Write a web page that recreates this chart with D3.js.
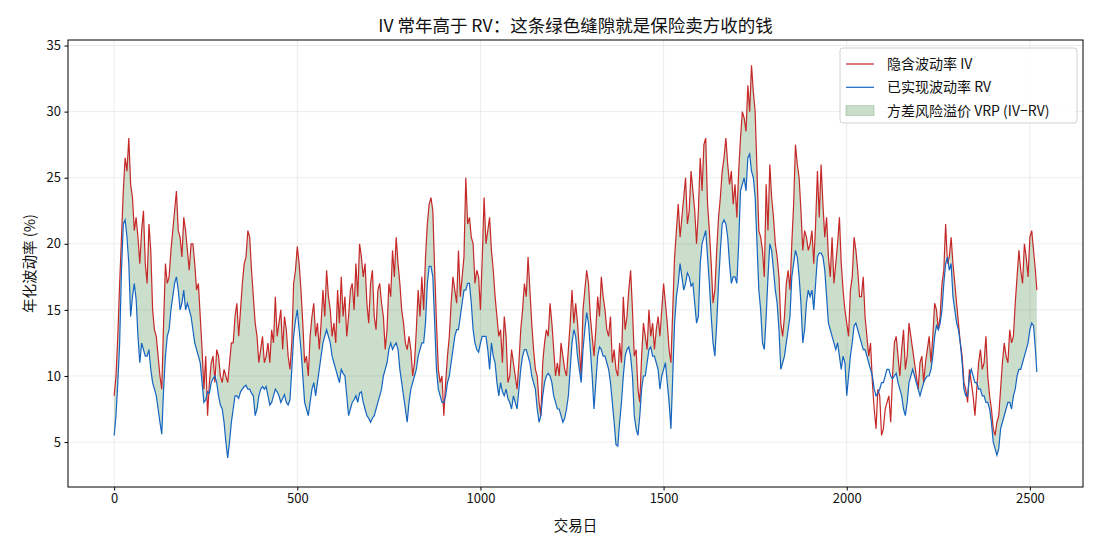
<!DOCTYPE html>
<html>
<head>
<meta charset="utf-8">
<script src="https://cdn.jsdelivr.net/npm/d3@7"></script>
<style>
  body { margin: 0; background: #fff; }
  text { font-family: "Noto Sans CJK SC", "DejaVu Sans", sans-serif; fill: #111; }
</style>
</head>
<body>
<div id="container"></div>
<script>
/* CONSTANTS AND GLOBALS */
const width = 1100,
    height = 550,
    margin = { top: 40, right: 17, bottom: 63, left: 68 };

// implied vol (IV), read every 5 trading days, last point = day 2519
const iv = [
    8.5, 10.0, 13.0, 17.0, 20.5, 24.0, 26.5, 25.5, 28.0, 24.5, 23.5, 21.0, 22.0, 20.5, 18.5, 21.0, 22.5, 18.5, 17.0, 21.5, 19.5,
    15.0, 13.5, 13.0, 11.5, 10.0, 9.0, 14.0, 18.5, 17.0, 17.5, 19.5, 21.0, 22.5, 24.0, 21.0, 20.5, 19.0, 22.0, 21.0, 19.5,
    18.0, 20.0, 20.0, 18.5, 16.5, 17.0, 14.5, 12.0, 9.0, 11.5, 7.0, 9.5, 11.0, 11.5, 9.5, 12.0, 11.5, 10.0, 9.5, 10.5, 10.0,
    9.5, 11.0, 12.5, 12.5, 14.5, 15.5, 13.0, 15.0, 17.0, 18.5, 19.0, 21.0, 20.5, 18.0, 16.0, 14.0, 13.0, 11.0, 12.0, 13.0, 11.0,
    11.5, 12.5, 11.0, 13.5, 12.5, 16.0, 13.0, 14.0, 15.0, 12.0, 14.5, 13.5, 11.5, 10.5, 12.5, 17.0, 18.0, 19.8, 18.5, 16.5, 14.0,
    11.0, 11.5, 10.0, 13.0, 14.5, 15.5, 13.0, 14.0, 12.0, 14.0, 16.5, 14.5, 18.0, 16.0, 15.0, 13.0, 14.0, 12.5, 16.5, 14.0, 17.5,
    14.5, 16.0, 13.0, 14.5, 16.5, 17.0, 15.0, 18.5, 16.0, 20.0, 19.0, 17.5, 18.5, 15.5, 14.0, 17.0, 18.0, 14.5, 13.5, 16.5, 17.0,
    15.5, 14.5, 12.0, 13.5, 17.0, 16.0, 19.5, 17.5, 20.5, 18.5, 17.0, 15.0, 14.0, 12.5, 12.0, 13.0, 12.0, 10.0, 11.0, 13.5, 16.5,
    14.5, 17.5,
    15.0, 19.0, 21.5, 23.0, 23.5, 22.5, 18.0, 14.0, 10.5, 9.5, 10.0, 7.0, 9.5, 11.5, 13.0, 15.5, 17.5, 16.5, 15.5, 19.5, 16.0,
    17.5, 19.0, 25.0, 21.5, 22.0, 20.5, 20.0, 17.0, 18.0, 17.5, 15.0, 19.0, 23.5, 20.0, 21.0, 22.0, 19.5, 18.0, 16.0, 14.5, 13.0,
    13.5, 11.0, 14.5, 13.0, 9.5, 10.0, 12.0, 11.0, 10.0, 9.0, 11.0, 13.5, 15.0, 17.0, 16.0, 19.0, 16.5, 14.0, 12.0, 10.5, 10.0,
    8.0, 7.0, 11.0, 12.5, 13.5, 13.0, 15.5, 14.0, 12.0, 10.0, 11.0, 10.0, 12.5, 11.5, 10.5, 10.0, 12.0, 14.0, 16.5, 14.0, 15.5,
    14.0, 12.0, 10.0, 15.0, 16.5, 18.0, 17.0, 14.5, 13.0, 11.5, 13.5, 16.0, 14.5, 17.5, 16.0, 15.0, 13.5, 13.0, 14.5, 11.0, 12.0,
    10.5, 10.0, 12.5, 11.0, 16.0, 13.5, 14.5, 16.5, 18.0, 15.0, 11.5, 12.0, 9.0, 8.0, 11.5, 14.0, 13.0, 12.0, 15.0, 13.0, 14.0,
    12.0, 13.5, 14.5, 13.0, 15.0, 17.0, 15.5, 14.0, 12.0, 11.0, 15.0, 19.0, 21.0, 23.0, 20.5, 22.0, 23.5, 25.0, 21.5, 22.5, 25.5,
    24.0, 22.5, 20.0, 22.5, 26.5, 24.0, 27.5, 28.0, 23.0, 21.0, 18.5, 15.5, 16.5, 19.5, 22.0, 23.5, 25.5, 26.5, 28.0, 26.0, 24.5,
    25.5, 23.0,
    24.5, 22.0, 25.5, 28.0, 30.0, 29.5, 28.5, 32.0, 30.0, 33.5, 31.5, 30.0, 25.5, 21.0, 20.5, 19.5, 17.5, 24.5, 21.0, 26.0, 23.5,
    22.0, 20.0, 19.0, 17.5, 14.0, 13.0, 14.5, 17.0, 18.0, 16.5, 20.0, 23.0, 27.5, 26.0, 25.0, 22.5, 19.5, 21.0, 20.5, 19.5, 20.0,
    21.0, 18.5, 21.5, 25.5, 22.0, 26.0, 23.0, 20.5, 22.0, 19.0, 17.5, 20.5, 17.0, 18.5, 20.0, 22.0, 18.5, 16.5, 15.0, 14.0, 13.0,
    16.5, 17.5, 20.5, 19.5, 18.0, 16.0, 16.0, 17.5, 14.5, 13.0, 11.5, 12.5, 9.5, 7.5, 6.0, 9.0, 8.5, 5.5, 6.0, 7.5, 8.0,
    8.5, 6.5, 10.0, 12.5, 13.0, 11.5, 10.0, 12.0, 13.5, 10.5, 11.5, 14.0, 13.0, 12.0, 11.0, 10.0, 9.0, 11.0, 11.5, 9.5, 11.0,
    12.0, 13.0, 11.0, 13.0, 15.5, 15.0, 13.5, 14.5, 17.0, 18.0, 21.5, 18.5, 19.0, 20.5, 18.5, 17.0, 15.5, 14.0, 12.5, 11.5, 9.5,
    9.0, 8.0,
    10.5, 9.5, 8.5, 7.0, 9.0, 11.0, 12.0, 10.5, 11.0, 13.0, 10.0, 8.5, 7.5, 6.0, 5.5, 6.5, 7.0, 9.0, 11.0, 12.5, 11.5,
    11.0, 13.5, 12.5, 13.0, 15.5, 17.5, 19.5, 18.0, 17.0, 20.0, 19.0, 17.5, 20.5, 21.0, 19.5, 18.0, 16.5
];

// realized vol (RV), same days
const rv = [
    5.5, 7.0, 9.5, 12.5, 18.0, 21.5, 21.8, 20.5, 18.5, 14.5, 16.0, 17.0, 15.8, 13.0, 11.0, 12.5, 12.0, 11.5, 11.5, 12.0, 10.5,
    9.5, 9.0, 8.5, 7.5, 6.5, 5.6, 9.0, 11.5, 13.0, 13.5, 15.0, 16.0, 17.0, 17.5, 16.5, 15.0, 15.5, 16.5, 15.0, 15.5,
    15.0, 14.5, 13.5, 12.5, 12.0, 11.5, 11.0, 9.5, 8.0, 8.2, 8.8, 8.7, 9.5, 9.8, 10.0, 9.5, 8.5, 7.8, 7.5, 6.5, 5.0,
    3.8, 5.0, 6.5, 7.5, 8.5, 8.5, 8.3, 8.8, 9.0, 9.2, 9.3, 9.0, 9.0, 8.7, 8.5, 7.0, 7.5, 8.5, 9.0, 9.2, 9.0,
    9.2, 8.5, 7.8, 8.0, 8.5, 9.0, 8.8, 8.5, 8.0, 8.3, 8.6, 8.0, 7.8, 8.2, 10.5, 13.0, 14.2, 15.0, 13.5, 12.0, 10.0,
    8.0, 7.5, 7.0, 8.0, 9.0, 9.5, 8.5, 9.5, 10.5, 11.5, 12.5, 13.0, 13.5, 13.0, 12.5, 11.5, 11.0, 10.5, 10.0, 9.5, 10.5,
    10.2, 10.0, 8.5, 7.0, 7.5, 8.0, 8.2, 8.5, 8.0, 8.7, 8.8, 8.0, 7.5, 7.0, 6.8, 6.5, 6.8, 7.0, 7.5, 8.0, 8.5,
    9.0, 10.0, 10.5, 11.0, 12.0, 12.5, 12.0, 12.3, 12.5, 12.0, 10.5, 9.5, 8.5, 7.5, 6.5, 8.0, 9.0, 9.5, 10.0, 10.5, 11.5,
    12.0, 12.5,
    12.5, 14.0, 17.0, 18.3, 18.3, 17.5, 14.0, 10.5, 9.0, 8.5, 8.0, 8.0, 8.5, 9.5, 10.0, 11.0, 12.0, 13.0, 13.5, 13.5, 14.5,
    15.5, 16.5, 16.5, 17.0, 17.0, 15.5, 13.5, 12.5, 12.0, 11.8, 12.5, 13.0, 13.0, 13.0, 12.0, 10.5, 12.5, 11.5, 11.0, 9.5, 8.5,
    9.5, 8.8, 8.5, 9.0, 8.3, 8.0, 7.5, 8.5, 8.0, 7.5, 9.0, 10.5, 11.5, 12.0, 12.0, 11.5, 11.0, 10.0, 9.5, 9.0, 7.5,
    6.5, 7.0, 8.5, 9.5, 10.0, 10.2, 10.0, 9.5, 8.5, 8.0, 7.5, 7.5, 7.0, 6.5, 6.8, 7.5, 8.5, 10.5, 12.5, 13.5, 13.0,
    11.5, 10.5, 9.5, 12.0, 13.5, 14.8, 14.0, 12.0, 10.0, 7.5, 9.5, 11.5, 12.2, 12.0, 11.5, 11.5, 11.0, 10.5, 9.5, 8.0, 6.5,
    4.8, 4.7, 6.5, 8.0, 10.0, 11.5, 12.0, 12.2, 11.5, 10.0, 7.0, 6.0, 5.5, 7.0, 9.0, 10.0, 10.0, 11.0, 12.0, 12.2, 11.5,
    11.5, 11.0, 10.5, 9.0, 10.0, 10.5, 11.0, 9.5, 8.0, 6.0, 10.0, 14.0, 16.0, 17.0, 18.5, 17.5, 16.5, 17.0, 17.8, 17.5, 16.8,
    17.0, 15.5, 14.0, 14.5, 18.5, 20.0, 20.5, 21.0, 19.0, 17.0, 14.5, 12.5, 11.5, 14.0, 17.0, 19.5, 21.5, 21.8, 21.5, 20.5, 18.5,
    17.0, 17.5,
    17.5, 17.0, 20.0, 24.0, 24.5, 25.0, 24.0, 26.5, 26.8, 25.5, 25.0, 23.5, 20.0, 16.5, 15.0, 12.5, 12.0, 14.5, 17.5, 20.0, 19.5,
    18.0, 16.5, 15.5, 13.5, 10.5, 11.0, 11.5, 12.5, 13.5, 14.5, 17.5, 18.5, 19.5, 19.0, 17.5, 15.5, 12.5, 13.5, 15.5, 16.5, 16.0,
    16.5, 15.0, 17.0, 19.0, 19.3, 19.3, 19.0, 18.0, 16.0, 14.0, 13.5, 13.0, 12.5, 12.0, 12.5, 11.5, 10.5, 11.5, 11.0, 8.5, 10.0,
    11.5, 12.5, 13.8, 14.0, 13.5, 13.0, 12.5, 12.0, 12.0, 11.5, 11.0, 10.5, 10.0, 9.0, 8.5, 8.7, 9.0, 9.5, 9.5, 10.0, 10.5,
    10.5, 10.0, 9.8, 10.0, 10.2, 9.5, 9.0, 8.5, 7.5, 7.0, 8.0, 9.5, 10.0, 10.5, 10.0, 9.5, 9.0, 8.5, 9.0, 9.5, 9.8,
    10.0, 10.0, 10.5, 11.5, 13.0, 13.8, 13.5, 14.0, 15.0, 17.0, 18.5, 19.0, 18.0, 18.5, 16.0, 15.0, 14.0, 13.5, 12.5, 11.0, 9.0,
    8.5, 8.5,
    10.0, 10.5, 10.0, 9.5, 9.5, 9.0, 9.0, 8.5, 8.5, 8.0, 8.0, 7.5, 6.5, 5.0, 4.5, 4.0, 4.5, 6.0, 6.5, 7.0, 7.5,
    8.0, 8.0, 7.5, 8.5, 9.0, 10.0, 10.5, 10.5, 11.0, 11.5, 12.0, 12.5, 13.5, 14.0, 13.8, 12.0, 10.3
];

const xTicks = [0, 500, 1000, 1500, 2000, 2500];
const yTicks = [5, 10, 15, 20, 25, 30, 35];
const legendLabels = ["隐含波动率 IV", "已实现波动率 RV", "方差风险溢价 VRP (IV−RV)"];

const ivColor = "#c62828",
    rvColor = "#1565c0",
    vrpColor = "#2e7d32";

const dataset = iv.map((v, i) => ({ day: Math.min(i * 5, 2519), iv: v, rv: rv[i] }));

const svg = d3.select("#container")
    .append("svg")
    .attr("width", width)
    .attr("height", height);

// SCALES
const xScale = d3.scaleLinear()
    .domain([-126, 2645])
    .range([margin.left, width - margin.right]);

const yScale = d3.scaleLinear()
    .domain([1.6, 35.42])
    .range([height - margin.bottom, margin.top]);

// GRID
svg.append("g")
    .selectAll("line")
    .data(xTicks)
    .join("line")
    .attr("x1", d => xScale(d)).attr("x2", d => xScale(d))
    .attr("y1", margin.top).attr("y2", height - margin.bottom)
    .attr("stroke", "#b0b0b0").attr("stroke-opacity", 0.3).attr("stroke-width", 0.8);

svg.append("g")
    .selectAll("line")
    .data(yTicks)
    .join("line")
    .attr("x1", margin.left).attr("x2", width - margin.right)
    .attr("y1", d => yScale(d)).attr("y2", d => yScale(d))
    .attr("stroke", "#b0b0b0").attr("stroke-opacity", 0.3).attr("stroke-width", 0.8);

const plot = svg.append("g");

// VRP FILL (only where IV above RV)
const area = d3.area()
    .defined(d => d.iv >= d.rv)
    .x(d => xScale(d.day))
    .y0(d => yScale(d.rv))
    .y1(d => yScale(d.iv));

plot.append("path")
    .datum(dataset)
    .attr("d", area)
    .attr("fill", vrpColor)
    .attr("fill-opacity", 0.25);

// LINES
const ivLine = d3.line().x(d => xScale(d.day)).y(d => yScale(d.iv));
const rvLine = d3.line().x(d => xScale(d.day)).y(d => yScale(d.rv));

plot.append("path")
    .datum(dataset)
    .attr("d", ivLine)
    .attr("fill", "none")
    .attr("stroke", ivColor)
    .attr("stroke-width", 1.2);

plot.append("path")
    .datum(dataset)
    .attr("d", rvLine)
    .attr("fill", "none")
    .attr("stroke", rvColor)
    .attr("stroke-width", 1.2);

// AXES
const xAxis = d3.axisBottom(xScale).tickValues(xTicks).tickFormat(d3.format("d")).tickSize(3.5).tickPadding(3.5);
const yAxis = d3.axisLeft(yScale).tickValues(yTicks).tickFormat(d3.format("d")).tickSize(3.5).tickPadding(3.5);

svg.append("g")
    .attr("transform", "translate(0," + (height - margin.bottom) + ")")
    .call(xAxis)
    .call(g => g.select(".domain").remove())
    .selectAll("text").style("font-size", "13px");

svg.append("g")
    .attr("transform", "translate(" + margin.left + ",0)")
    .call(yAxis)
    .call(g => g.select(".domain").remove())
    .selectAll("text").style("font-size", "13px");

// FRAME
svg.append("rect")
    .attr("x", margin.left).attr("y", margin.top)
    .attr("width", width - margin.left - margin.right)
    .attr("height", height - margin.top - margin.bottom)
    .attr("fill", "none").attr("stroke", "#000").attr("stroke-width", 1);

// LABELS
svg.append("text")
    .attr("x", (margin.left + width - margin.right) / 2)
    .attr("y", 32)
    .attr("text-anchor", "middle")
    .style("font-size", "17.5px")
    .text("IV 常年高于 RV：这条绿色缝隙就是保险卖方收的钱");

svg.append("text")
    .attr("x", (margin.left + width - margin.right) / 2)
    .attr("y", 531)
    .attr("text-anchor", "middle")
    .style("font-size", "14.5px")
    .text("交易日");

svg.append("text")
    .attr("transform", "rotate(-90)")
    .attr("x", -(margin.top + height - margin.bottom) / 2)
    .attr("y", 35)
    .attr("text-anchor", "middle")
    .style("font-size", "14.5px")
    .text("年化波动率 (%)");

// LEGEND
const legend = svg.append("g").attr("transform", "translate(840,48)");

legend.append("rect")
    .attr("width", 237).attr("height", 75).attr("rx", 3)
    .attr("fill", "#fff").attr("fill-opacity", 0.8)
    .attr("stroke", "#d0d0d0");

legendLabels.forEach((label, i) => {
    const y = 16 + i * 23.3;
    if (i < 2) {
        legend.append("line")
            .attr("x1", 6).attr("x2", 34).attr("y1", y).attr("y2", y)
            .attr("stroke", i === 0 ? ivColor : rvColor).attr("stroke-width", 1.2);
    } else {
        legend.append("rect")
            .attr("x", 6).attr("y", y - 5).attr("width", 28).attr("height", 10)
            .attr("fill", vrpColor).attr("fill-opacity", 0.25)
            .attr("stroke", vrpColor).attr("stroke-opacity", 0.25);
    }
    legend.append("text")
        .attr("x", 47).attr("y", y + 5)
        .style("font-size", "14px")
        .text(label);
});
</script>
</body>
</html>
